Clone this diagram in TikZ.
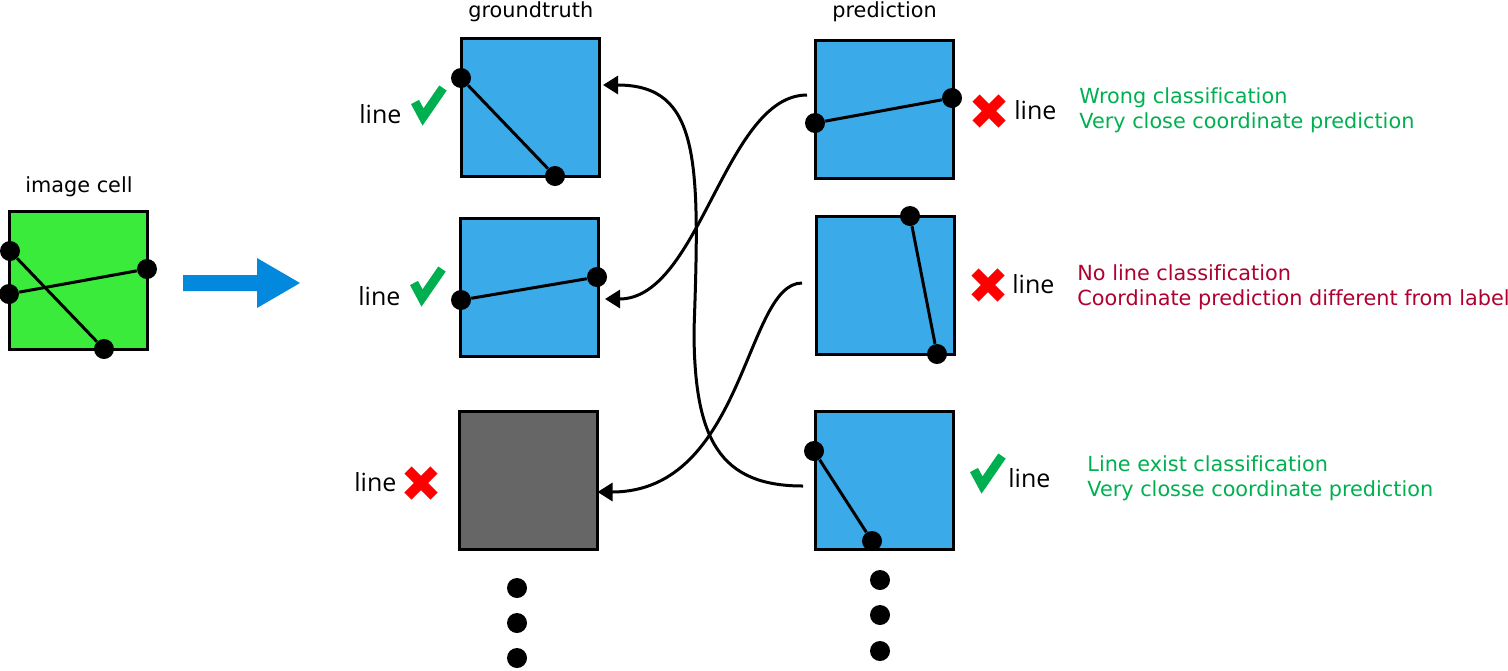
\documentclass[tikz,border=0pt]{standalone}
\usepackage{fontspec}
\setmainfont[Ligatures=NoCommon]{DejaVu Sans}
\newfontfamily\linefont{Open Sans}
\usetikzlibrary{arrows.meta}
\definecolor{cellgreen}{RGB}{59,235,59}
\definecolor{boxblue}{RGB}{58,170,233}
\definecolor{boxgray}{RGB}{102,102,102}
\definecolor{okgreen}{RGB}{0,176,80}
\definecolor{badred}{RGB}{255,0,0}
\definecolor{notered}{RGB}{176,0,48}
\definecolor{arrowblue}{RGB}{2,136,221}
\begin{document}
\begin{tikzpicture}[x=0.5pt,y=-0.5pt,font=\fontsize{10.4}{12.5}\selectfont,
  box/.style={draw,line width=1.5pt,minimum size=69pt,inner sep=0pt},
  pt/.style={circle,fill,minimum size=10pt,inner sep=0pt},
  seg/.style={line width=1.5pt},
  lbl/.style={font=\linefont\fontsize{12.5}{15}\selectfont,inner sep=0pt,anchor=base west},
  head/.style={inner sep=0pt,anchor=base west},
  txt/.style={inner sep=0pt,anchor=north west,align=left},
  link/.style={line width=1.5pt,-{Triangle[length=7.5pt,width=9pt]}},
  okmark/.pic={\draw[okgreen,line width=4.5pt] (-13,-3)--(-5,12)--(15,-17);},
  nomark/.pic={\draw[badred,line width=5pt] (-13,-13)--(13,13) (-13,13)--(13,-13);}]
\useasboundingbox (0,0) rectangle (1508,670);

% image cell
\node[head] (c0t) at (25,192) {image cell};
\node[box,fill=cellgreen] (c0) at (78.5,280) {};
\node[pt] (c1) at (10,251) {};
\node[pt] (c2) at (9,294) {};
\node[pt] (c3) at (147,269) {};
\node[pt] (c4) at (104,349) {};
\draw[seg] (c1)--(c4);
\draw[seg] (c2)--(c3);

\fill[arrowblue] (183,275)--(257,275)--(257,258)--(300,283)--(257,308)--(257,291)--(183,291)--cycle;

% groundtruth
\node[head] (gt) at (468,17) {groundtruth};
\node[box,fill=boxblue] (g1) at (530,107.5) {};
\node[box,fill=boxblue] (g2) at (529.5,287) {};
\node[box,fill=boxgray] (g3) at (528,480) {};
\node[pt] (g1a) at (461,78) {};
\node[pt] (g1b) at (555,176) {};
\node[pt] (g2a) at (461,300) {};
\node[pt] (g2b) at (597,277) {};
\draw[seg] (g1a)--(g1b);
\draw[seg] (g2a)--(g2b);
\foreach \y in {588,623,658} \node[pt] (gd\y) at (517,\y) {};

\node[lbl] (l1) at (359,123) {line};
\node[lbl] (l2) at (358,305) {line};
\node[lbl] (l3) at (354,491) {line};
\pic at (428,105) {okmark};
\pic at (427,286) {okmark};
\pic at (421,483) {nomark};

% prediction
\node[head] (pr) at (832,17) {prediction};
\node[box,fill=boxblue] (p1) at (884,109) {};
\node[box,fill=boxblue] (p2) at (885,285) {};
\node[box,fill=boxblue] (p3) at (884,480) {};
\node[pt] (p1a) at (815,123) {};
\node[pt] (p1b) at (952,98) {};
\node[pt] (p2a) at (910,216) {};
\node[pt] (p2b) at (937,354) {};
\node[pt] (p3a) at (814,451) {};
\node[pt] (p3b) at (872,541) {};
\draw[seg] (p1a)--(p1b);
\draw[seg] (p2a)--(p2b);
\draw[seg] (p3a)--(p3b);
\foreach \y in {580,615,651} \node[pt] (pd\y) at (880,\y) {};

\pic at (989,111) {nomark};
\pic at (988,285) {nomark};
\pic at (987,473) {okmark};
\node[lbl] (l4) at (1014,119) {line};
\node[lbl] (l5) at (1012,293) {line};
\node[lbl] (l6) at (1008,487) {line};

\node[txt,text=okgreen] (t1) at (1079,87) {Wrong classification\\Very close coordinate prediction};
\node[txt,text=notered] (t2) at (1077,264) {No line classification\\Coordinate prediction different from label};
\node[txt,text=okgreen] (t3) at (1087,455) {Line exist classification\\Very closse coordinate prediction};

% matching
\draw[link] ([shift={(-6.5,-14)}]p1.west) .. controls (725,95) and (700,299) .. ([shift={(5,12)}]g2.east);
\draw[link] ([shift={(-12.5,-2)}]p2.west) .. controls (745,283) and (745,492) .. ([shift={(-1,12)}]g3.east);
\draw[link] ([shift={(-10.5,6)}]p3.west) .. controls (720,486) and (694,440) .. (694,330)
  .. controls (700,160) and (700,85) .. ([shift={(2.5,-22.5)}]g1.east);
\end{tikzpicture}
\end{document}
